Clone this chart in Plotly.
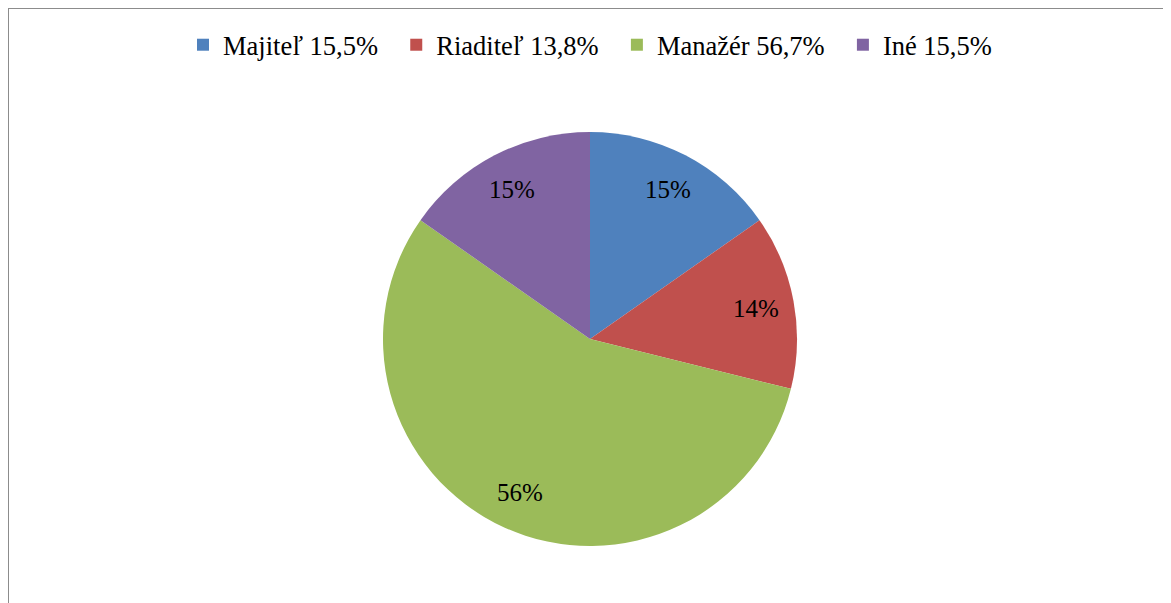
import math
import plotly.graph_objects as go

# Data
categories = ["Majiteľ", "Riaditeľ", "Manažér", "Iné"]
shares = [15.5, 13.8, 56.7, 15.5]
colors = ["#4F81BD", "#C0504D", "#9BBB59", "#8064A2"]

# page body has an 8px margin, so figure pixels = page pixels - 8
W, H = 1171, 603
cx, cy, r = 582, 331, 207

pad = "\u00a0\u00a0"
legend_labels = [
    f"{c} {v:.1f}%".replace(".", ",") + (pad if i < len(categories) - 1 else "")
    for i, (c, v) in enumerate(zip(categories, shares))
]

fig = go.Figure(go.Pie(
    labels=legend_labels,
    values=shares,
    sort=False,
    direction="clockwise",
    rotation=0,
    marker=dict(colors=colors, line=dict(width=0)),
    textinfo="none",
    domain=dict(x=[(cx - r) / W, (cx + r) / W], y=[(H - cy - r) / H, (H - cy + r) / H]),
    hoverinfo="label+percent",
))

# data labels placed like Excel's: further out along each slice's mid angle
total = sum(shares)
cum = 0
for v in shares:
    theta = 2 * math.pi * (cum + v / 2) / total
    cum += v
    px = cx + 0.815 * r * math.sin(theta)
    py = cy - 0.815 * r * math.cos(theta)
    fig.add_annotation(
        x=px / W, y=1 - py / H, xref="paper", yref="paper",
        text=f"{round(v / total * 100)}%", showarrow=False,
        xanchor="center", yanchor="middle",
        font=dict(family="Liberation Serif", size=25, color="black"),
    )

fig.update_layout(
    width=W, height=H,
    margin=dict(l=0, r=0, t=0, b=0),
    paper_bgcolor="white",
    plot_bgcolor="white",
    font=dict(family="Liberation Serif", size=26.5, color="black"),
    legend=dict(
        orientation="h", x=0.497, xanchor="center", y=1 - 37 / H, yanchor="middle",
        font=dict(size=26.5),
    ),
    shapes=[dict(
        type="rect", xref="paper", yref="paper",
        x0=0, x1=1.05, y0=-0.05, y1=1,
        line=dict(color="#8C8C8C", width=2),
    )],
)

fig.write_html("out.html")
